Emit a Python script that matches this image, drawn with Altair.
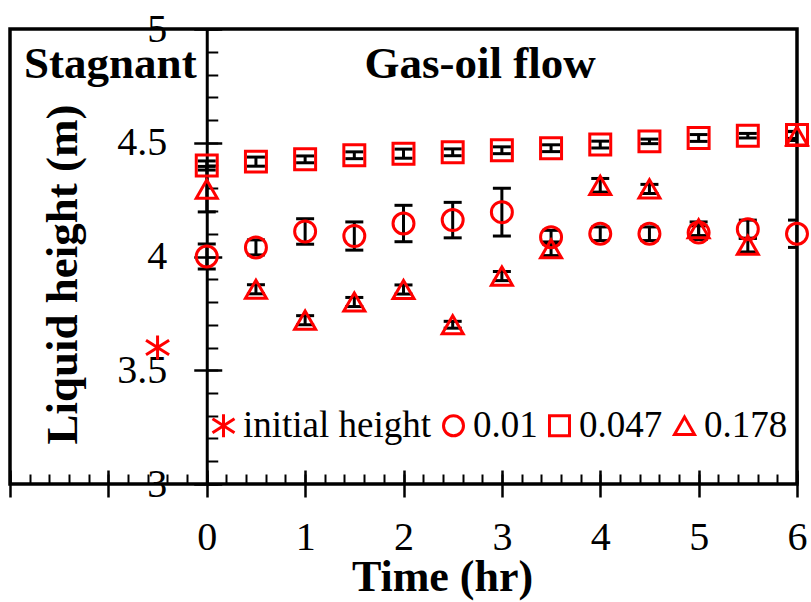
import altair as alt
import pandas as pd

# ---------------- data ----------------
times = [0, 0.5, 1, 1.5, 2, 2.5, 3, 3.5, 4, 4.5, 5, 5.5, 6]

h_001 = [4.00, 4.04, 4.11, 4.09, 4.145, 4.16, 4.195, 4.085, 4.10, 4.10, 4.105, 4.12, 4.10]
e_001 = [0.055, 0.033, 0.056, 0.062, 0.08, 0.078, 0.105, 0.03, 0.03, 0.03, 0.03, 0.04, 0.06]

h_0047 = [4.40, 4.417, 4.427, 4.445, 4.452, 4.458, 4.467, 4.476, 4.492, 4.506, 4.521, 4.531, 4.534]
e_0047 = [0.02, 0.02, 0.015, 0.015, 0.02, 0.015, 0.015, 0.015, 0.015, 0.01, 0.015, 0.01, 0.015]

h_0178 = [4.296, 3.856, 3.72, 3.80, 3.855, 3.70, 3.914, 4.034, 4.313, 4.297, 4.122, 4.05, 4.53]
e_0178 = [0.10, 0.02, 0.02, 0.02, 0.02, 0.015, 0.02, 0.03, 0.03, 0.02, 0.03, 0.03, 0.02]

init_time = [-0.5]
init_height = [3.6]

series_names = ["initial height", "0.01", "0.047", "0.178"]
annot_x = [-0.98, 2.78]
annot_y = [4.785, 4.785]
annot_text = ["Stagnant", "Gas-oil flow"]

x_major = [-2, -1, 0, 1, 2, 3, 4, 5, 6]
x_minor = [round(-2 + 0.2 * i, 1) for i in range(41)]
y_major = [3, 3.5, 4, 4.5, 5]
y_minor = [round(3 + 0.1 * i, 1) for i in range(21)]

# ---------------- tables ----------------
rows = []
for name, hs, es in [("0.01", h_001, e_001), ("0.047", h_0047, e_0047), ("0.178", h_0178, e_0178)]:
    for t, h, e in zip(times, hs, es):
        rows.append({"t": t, "h": h, "lo": h - e, "hi": h + e, "series": name})
err_df = pd.DataFrame(rows)
pts_df = pd.concat(
    [pd.DataFrame({"t": init_time, "h": init_height, "series": ["initial height"]}),
     err_df[["t", "h", "series"]]],
    ignore_index=True,
)
annot_df = pd.DataFrame({"x": annot_x, "y": annot_y, "label": annot_text})

# ---------------- styling ----------------
W, H = 787, 455
SERIF = "Liberation Serif"
RED = "#FF0000"

xs = alt.Scale(domain=[-2, 6], nice=False, zero=False)
ys = alt.Scale(domain=[3, 5], nice=False, zero=False)

x_bottom = alt.Axis(
    orient="bottom", values=x_major, tickSize=13, tickWidth=2.5, tickColor="black",
    domain=False, grid=False, format="d",
    labelExpr="datum.value < 0 ? '' : datum.label",
    labelFont=SERIF, labelFontSize=40, labelColor="black", labelPadding=20,
    labelFlush=False, labelOverlap=False,
    title="Time (hr)", titleFont=SERIF, titleFontSize=44, titleFontWeight="bold",
    titleColor="black", titleX=432, titleY=106, titleAlign="center",
    titleBaseline="alphabetic",
)
x_top_minor = alt.Axis(
    orient="top", offset=-H, values=x_minor, tickSize=10, tickWidth=2,
    tickColor="black", labels=False, domain=False, grid=False, title="",
)
x_top_major = alt.Axis(
    orient="top", offset=-H, values=x_major, tickSize=14, tickWidth=2.5,
    tickColor="black", labels=False, domain=False, grid=False, title="",
)
y_left = alt.Axis(
    orient="left", offset=-W / 4, values=y_major, tickSize=13, tickWidth=2.5,
    tickColor="black", domain=True, domainColor="black", domainWidth=3, grid=False,
    format="~g", labelFont=SERIF, labelFontSize=40, labelColor="black",
    labelPadding=27, labelFlush=False, labelOverlap=False,
    title="Liquid height (m)", titleFont=SERIF, titleFontSize=45,
    titleFontWeight="bold", titleColor="black", titleX=-144, titleY=245,
    titleAlign="center", titleBaseline="middle", titleAngle=270,
)
y_right_minor = alt.Axis(
    orient="right", offset=-W * 0.75, values=y_minor, tickSize=11, tickWidth=2,
    tickColor="black", labels=False, domain=False, grid=False, title="",
)
y_right_major = alt.Axis(
    orient="right", offset=-W * 0.75, values=y_major, tickSize=15, tickWidth=2.5,
    tickColor="black", labels=False, domain=False, grid=False, title="",
)

asterisk = "M0,-1.15L0,1.15M-1.1,-0.7L1.1,0.7M-1.1,0.7L1.1,-0.7"
shape_range = [asterisk, "circle", "square", "triangle-up"]

# ---------------- layers ----------------
err_rule = alt.Chart(err_df).mark_rule(color="black", strokeWidth=3, clip=True).encode(
    x=alt.X("t:Q", scale=xs, axis=x_bottom),
    y=alt.Y("lo:Q", scale=ys, axis=y_left),
    y2="hi:Q",
)
cap_lo = alt.Chart(err_df).mark_tick(
    orient="horizontal", color="black", thickness=3, size=18, clip=True, opacity=1
).encode(
    x=alt.X("t:Q", scale=xs, axis=x_top_minor),
    y=alt.Y("lo:Q", scale=ys, axis=y_right_minor),
)
cap_hi = alt.Chart(err_df).mark_tick(
    orient="horizontal", color="black", thickness=3, size=18, clip=True, opacity=1
).encode(
    x=alt.X("t:Q", scale=xs, axis=x_top_major),
    y=alt.Y("hi:Q", scale=ys, axis=y_right_major),
)
points = alt.Chart(pts_df).mark_point(
    filled=False, strokeWidth=3, size=440, color=RED, opacity=1
).encode(
    x=alt.X("t:Q", scale=xs, axis=None),
    y=alt.Y("h:Q", scale=ys, axis=None),
    shape=alt.Shape(
        "series:N",
        scale=alt.Scale(domain=series_names, range=shape_range),
        sort=series_names,
        title=None,
        legend=alt.Legend(
            orient="none", direction="horizontal", legendX=195, legendY=378,
            padding=0, labelFont=SERIF, labelFontSize=37, labelColor="black",
            symbolSize=400, symbolStrokeWidth=3, symbolStrokeColor=RED,
            symbolFillColor="transparent", labelOffset=1, columnPadding=3,
            labelLimit=400,
        ),
    ),
)
annot = alt.Chart(annot_df).mark_text(
    font=SERIF, fontSize=45, fontWeight="bold", color="black",
    align="center", baseline="alphabetic",
).encode(
    x=alt.X("x:Q", scale=xs, axis=None),
    y=alt.Y("y:Q", scale=ys, axis=None),
    text="label:N",
)

chart = (
    alt.layer(err_rule, cap_lo, cap_hi, points, annot)
    .resolve_axis(x="independent", y="independent")
    .properties(
        width=W, height=H,
        autosize=alt.AutoSizeParams(type="none"),
        padding={"left": 10, "top": 29, "right": 14, "bottom": 118},
        background="white",
    )
    .configure_view(stroke="black", strokeWidth=3.5)
)

chart.save("out.html", embed_options={"renderer": "svg", "actions": False})
